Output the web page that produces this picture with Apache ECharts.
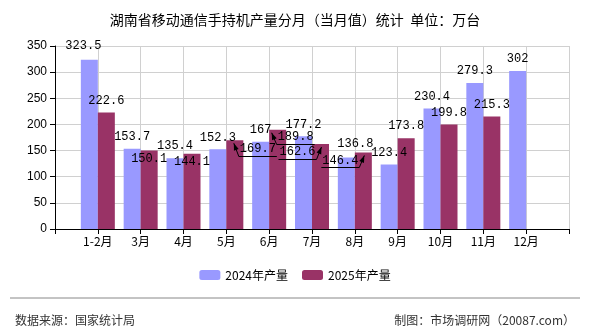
<!DOCTYPE html>
<html>
<head>
<meta charset="utf-8">
<script src="https://cdn.jsdelivr.net/npm/echarts@6/dist/echarts.min.js"></script>
<style>
  html, body { margin: 0; padding: 0; background: #fff; }
  #chart { width: 590px; height: 330px; }
</style>
</head>
<body>
<div id="chart"></div>
<script>
// category slots: blank at both ends so the axis runs one slot past the data
const months = ['', '1-2月', '3月', '4月', '5月', '6月', '7月', '8月', '9月', '10月', '11月', '12月', ''];
const output2024 = [null, 323.5, 153.7, 135.4, 152.3, 167, 177.2, 136.8, 123.4, 230.4, 279.3, 302, null];
const output2025 = [null, 222.6, 150.1, 144.1, 169.7, 189.8, 162.6, 146.4, 173.8, 199.8, 215.3, null, null];
const yTicks = [0, 50, 100, 150, 200, 250, 300, 350];

// labels the original chart pushed aside to avoid overlaps: [dx, dy, leader line]
const labelShift = [
  { '1-2月': [-6, -2, false], '8月': [9, -2, false] },
  {
    '3月': [0, 20, false], '4月': [0, 20, false], '5月': [23, 21, true],
    '6月': [18, 19, true], '7月': [-23, 20, true], '8月': [-23, 20, true]
  }
];

const BAR_W = 17;
const LABEL_SIZE = 12;
const seriesValues = [output2024, output2025];

const chart = echarts.init(document.getElementById('chart'));

const labelFont = {
  show: true,
  position: 'top',
  distance: 6,
  color: '#000',
  fontSize: LABEL_SIZE,
  fontFamily: 'Liberation Mono, monospace'
};

function layoutLabel(params) {
  const s = labelShift[params.seriesIndex][months[params.dataIndex]];
  if (!s) return {};
  return { dx: s[0], dy: s[1] };
}

const footerLine = {
  id: 'footer',
  type: 'line',
  shape: { x1: 10, y1: 298, x2: 580, y2: 298 },
  style: { stroke: '#888', lineWidth: 1 }
};

chart.setOption({
  animation: false,
  title: [
    {
      text: '湖南省移动通信手持机产量分月（当月值）统计  单位：万台',
      left: 'center',
      top: 8,
      textStyle: { fontSize: 14, fontWeight: 'normal', color: '#000', fontFamily: 'Noto Sans CJK SC' }
    },
    {
      text: '数据来源：国家统计局',
      left: 10,
      top: 309,
      textStyle: { fontSize: 12, fontWeight: 'normal', color: '#333', fontFamily: 'Noto Sans CJK SC' }
    },
    {
      text: '制图：市场调研网（20087.com）',
      right: 10,
      top: 309,
      textStyle: { fontSize: 12, fontWeight: 'normal', color: '#333', fontFamily: 'Noto Sans CJK SC' }
    }
  ],
  graphic: [footerLine],
  legend: {
    bottom: 44,
    left: 'center',
    itemWidth: 21,
    itemHeight: 10,
    itemGap: 14,
    textStyle: { fontSize: 12, color: '#000', fontFamily: 'Noto Sans CJK SC' },
    data: ['2024年产量', '2025年产量']
  },
  grid: { left: 55, right: 21, top: 46, bottom: 101 },
  xAxis: {
    type: 'category',
    data: months,
    boundaryGap: false,
    axisLine: { lineStyle: { color: '#000' } },
    axisTick: { show: true, lineStyle: { color: '#000' } },
    axisLabel: { color: '#000', fontSize: 12, margin: 6, interval: 0, fontFamily: 'Noto Sans CJK SC' },
    splitLine: { show: true, lineStyle: { color: '#d0d0d0' } }
  },
  yAxis: {
    type: 'value',
    min: yTicks[0],
    max: yTicks[yTicks.length - 1],
    interval: 50,
    axisLine: { show: true, lineStyle: { color: '#000' } },
    axisTick: { show: true, lineStyle: { color: '#000' } },
    axisLabel: { color: '#000', fontSize: 12, fontFamily: 'Liberation Sans' },
    splitLine: { lineStyle: { color: '#d0d0d0' } }
  },
  series: [
    {
      name: '2024年产量',
      type: 'bar',
      data: output2024,
      barWidth: BAR_W,
      barGap: '0%',
      itemStyle: { color: '#9999ff' },
      label: labelFont,
      labelLayout: layoutLabel
    },
    {
      name: '2025年产量',
      type: 'bar',
      data: output2025,
      barWidth: BAR_W,
      itemStyle: { color: '#993366' },
      label: labelFont,
      labelLayout: layoutLabel
    }
  ]
});

// leader lines (underline + arrow) for the labels that were pushed aside
const ctx = document.createElement('canvas').getContext('2d');
ctx.font = LABEL_SIZE + 'px Liberation Mono';
const leaders = [];
labelShift.forEach((shifts, si) => {
  Object.keys(shifts).forEach(name => {
    const s = shifts[name];
    if (!s[2]) return;
    const i = months.indexOf(name);
    const v = seriesValues[si][i];
    const p = chart.convertToPixel({ xAxisIndex: 0, yAxisIndex: 0 }, [i, v]);
    const barX = p[0] + (si === 0 ? -BAR_W / 2 : BAR_W / 2);
    const barTop = p[1];
    const cx = barX + s[0];
    const cy = barTop - 6 - LABEL_SIZE / 2 + s[1];
    const w = ctx.measureText(String(v)).width;
    const uy = Math.round(cy + 7) + 0.5;
    const left = cx - w / 2 - 1;
    const right = cx + w / 2 + 1;
    const near = s[0] > 0 ? left : right;
    const far = s[0] > 0 ? right : left;
    const tip = [near + (s[0] > 0 ? -5 : 5), barTop + 3];
    leaders.push({
      type: 'polyline',
      z: 100,
      shape: { points: [[far, uy], [near, uy], tip] },
      style: { stroke: '#000', lineWidth: 1, fill: null }
    });
    // small arrow head at the tip
    const dxl = tip[0] - near, dyl = tip[1] - uy;
    const len = Math.sqrt(dxl * dxl + dyl * dyl);
    const ux = dxl / len, uyv = dyl / len;
    const bx = tip[0] - ux * 7, by = tip[1] - uyv * 7;
    leaders.push({
      type: 'polygon',
      z: 100,
      shape: { points: [tip, [bx - uyv * 2.5, by + ux * 2.5], [bx + uyv * 2.5, by - ux * 2.5]] },
      style: { fill: '#000' }
    });
  });
});
chart.setOption({ graphic: [footerLine].concat(leaders) }, { replaceMerge: ['graphic'] });
</script>
</body>
</html>
